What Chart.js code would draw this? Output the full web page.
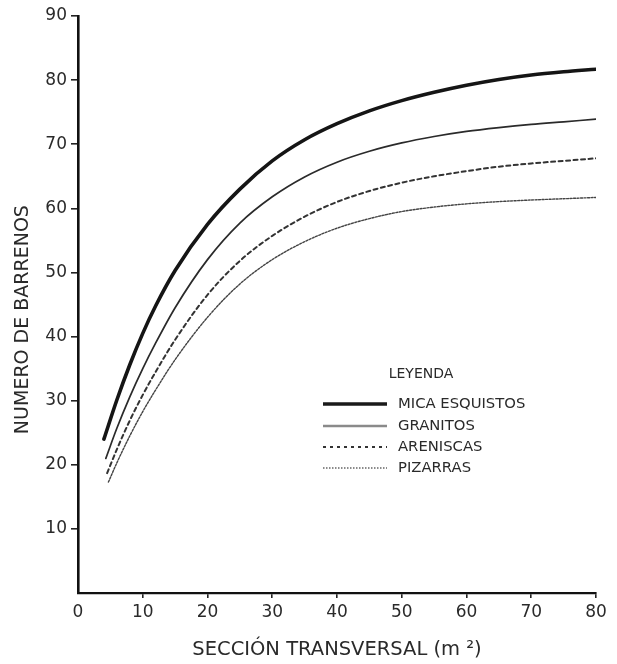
<!DOCTYPE html>
<html>
<head>
<meta charset="utf-8">
<script src="https://cdn.jsdelivr.net/npm/chart.js@4.4.1/dist/chart.umd.min.js"></script>
<style>
  html, body { margin: 0; padding: 0; background: #ffffff; }
  #wrap { width: 617px; height: 664px; position: relative; }
</style>
</head>
<body>
<div id="wrap"><canvas id="c" width="617" height="664"></canvas></div>
<script>
// ---- Data ----
const seriesNames = ['MICA ESQUISTOS', 'GRANITOS', 'ARENISCAS', 'PIZARRAS'];

const micaX = [4, 6, 8, 10, 12, 15, 20, 25, 30, 35, 40, 45, 50, 55, 60, 65, 70, 75, 80];
const micaY = [24, 30.1, 35.6, 40.5, 44.8, 50.3, 57.5, 63, 67.4, 70.7, 73.2, 75.2, 76.8, 78.1, 79.2, 80.1, 80.8, 81.3, 81.7];

const granitosX = [4.3, 6, 8, 10, 12, 15, 20, 25, 30, 35, 40, 45, 50, 55, 60, 65, 70, 75, 80];
const granitosY = [21, 25.7, 30.6, 35, 39, 44.5, 52, 57.7, 61.8, 64.9, 67.2, 68.9, 70.2, 71.2, 72, 72.6, 73.1, 73.5, 73.9];

const areniscasX = [4.5, 6, 8, 10, 12, 15, 20, 25, 30, 35, 40, 45, 50, 55, 60, 65, 70, 75, 80];
const areniscasY = [18.7, 22.4, 26.9, 30.9, 34.5, 39.5, 46.5, 51.8, 55.7, 58.7, 61, 62.7, 64, 65, 65.8, 66.5, 67, 67.4, 67.8];

const pizarrasX = [4.7, 6, 8, 10, 12, 15, 20, 25, 30, 35, 40, 45, 50, 55, 60, 65, 70, 75, 80];
const pizarrasY = [17.3, 20.3, 24.5, 28.3, 31.7, 36.4, 43, 48.2, 52, 54.8, 56.9, 58.4, 59.5, 60.2, 60.7, 61.05, 61.3, 61.5, 61.7];

const xTicks = [0, 10, 20, 30, 40, 50, 60, 70, 80];
const yTicks = [10, 20, 30, 40, 50, 60, 70, 80, 90];

const xTitle = 'SECCIÓN TRANSVERSAL (m \u00B2)';
const yTitle = 'NUMERO DE BARRENOS';
const legendTitle = 'LEYENDA';

// ---- Build ----
function pts(xs, ys) { return xs.map((x, i) => ({ x: x, y: ys[i] })); }

const FONT = "'DejaVu Sans', Verdana, sans-serif";
const TXT = '#2a2a2a';

const styles = [
  { color: '#151515', width: 3.6, dash: [], legendColor: '#1a1a1a', legendWidth: 3.4, legendDash: [] },
  { color: '#2a2a2a', width: 1.7, dash: [], legendColor: '#8a8a8a', legendWidth: 2.6, legendDash: [] },
  { color: '#333333', width: 2.0, dash: [4, 3.5], legendColor: '#333333', legendWidth: 1.8, legendDash: [3, 4] },
  { color: '#444444', width: 1.4, dash: [2, 1.5], legendColor: '#666666', legendWidth: 1.4, legendDash: [1.5, 1.5] }
];
const seriesData = [pts(micaX, micaY), pts(granitosX, granitosY), pts(areniscasX, areniscasY), pts(pizarrasX, pizarrasY)];

const datasets = seriesNames.map((name, i) => ({
  label: name,
  data: seriesData[i],
  borderColor: styles[i].color,
  borderWidth: styles[i].width,
  borderDash: styles[i].dash,
  pointRadius: 0,
  fill: false,
  cubicInterpolationMode: 'monotone',
  borderCapStyle: 'round'
}));

const legendPlugin = {
  id: 'inlineLegend',
  afterDatasetsDraw(chart) {
    const ctx = chart.ctx;
    ctx.save();
    ctx.fillStyle = TXT;
    ctx.font = "14px " + FONT;
    ctx.textBaseline = 'middle';
    ctx.textAlign = 'center';
    ctx.fillText(legendTitle, 421, 374);
    const rows = [404, 426, 447, 468];
    ctx.textAlign = 'left';
    ctx.font = "14.8px " + FONT;
    seriesNames.forEach((name, i) => {
      const st = styles[i];
      ctx.beginPath();
      ctx.setLineDash(st.legendDash);
      ctx.lineWidth = st.legendWidth;
      ctx.strokeStyle = st.legendColor;
      ctx.moveTo(323, rows[i]);
      ctx.lineTo(387, rows[i]);
      ctx.stroke();
      ctx.setLineDash([]);
      ctx.fillStyle = TXT;
      ctx.fillText(name, 398, rows[i] + 0.5);
    });
    ctx.restore();
  }
};

new Chart(document.getElementById('c'), {
  type: 'line',
  data: { datasets: datasets },
  options: {
    responsive: false,
    animation: false,
    events: [],
    layout: { padding: { top: 16, right: 21, bottom: 0, left: 0 } },
    plugins: { legend: { display: false }, tooltip: { enabled: false } },
    scales: {
      x: {
        type: 'linear',
        min: 0, max: 80,
        afterFit(scale) { scale.height = 71; },
        afterBuildTicks(scale) { scale.ticks = xTicks.map(v => ({ value: v })); },
        border: { display: true, color: '#111111', width: 2.2 },
        grid: {
          display: true, drawOnChartArea: false, tickLength: 5,
          color: (c) => (c.tick && c.tick.value === 0) ? 'rgba(0,0,0,0)' : '#222222',
          tickColor: (c) => (c.tick && c.tick.value === 0) ? 'rgba(0,0,0,0)' : '#222222',
          lineWidth: 1.6
        },
        ticks: { color: TXT, font: { family: FONT, size: 17 }, padding: 4, maxRotation: 0, autoSkip: false },
        title: { display: true, text: xTitle, color: TXT, font: { family: FONT, size: 19.5 }, padding: { top: 0, bottom: 2 } }
      },
      y: {
        type: 'linear',
        min: 0, max: 90,
        afterFit(scale) { scale.width = 78; },
        afterBuildTicks(scale) { scale.ticks = [{ value: 0 }].concat(yTicks.map(v => ({ value: v }))); },
        border: { display: true, color: '#111111', width: 2.6 },
        grid: {
          display: true, drawOnChartArea: false, tickLength: 7,
          color: (c) => (c.tick && c.tick.value === 0) ? 'rgba(0,0,0,0)' : '#222222',
          tickColor: (c) => (c.tick && c.tick.value === 0) ? 'rgba(0,0,0,0)' : '#222222',
          lineWidth: 1.6
        },
        ticks: {
          color: TXT, font: { family: FONT, size: 17 }, padding: 4, autoSkip: false,
          callback: (v) => v === 0 ? '' : String(v)
        },
        title: { display: true, text: yTitle + '\u00A0\u00A0\u00A0\u00A0\u00A0', color: TXT, font: { family: FONT, size: 19 }, padding: { top: 12, bottom: 0 } }
      }
    }
  },
  plugins: [legendPlugin]
});
</script>
</body>
</html>
